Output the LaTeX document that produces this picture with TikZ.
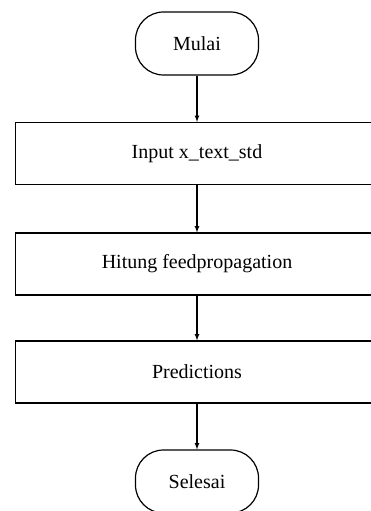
\documentclass[tikz,border=0pt]{standalone}
\usepackage{fontspec}
\setmainfont{Liberation Serif}
\usetikzlibrary{arrows}

\begin{document}
\begin{tikzpicture}[x=1pt,y=-1pt,
  terminal/.style={rectangle,draw,line width=1.2pt,rounded corners=28pt,minimum width=123pt,minimum height=63pt,font=\fontsize{20}{24}\selectfont},
  process/.style={rectangle,draw,line width=1.2pt,minimum width=363pt,minimum height=62pt,font=\fontsize{20}{24}\selectfont},
  flow/.style={->,>=latex,line width=1.2pt}]
\useasboundingbox (0,0) rectangle (371,511);
\clip (0,0) rectangle (371,511);
\node[terminal] at (197,43.5) (mulai) {Mulai};
\node[process] at (197,153.5) (input) {Input x\_text\_std};
\node[process] at (197,264) (hitung) {Hitung feedpropagation};
\node[process] at (197,372) (pred) {Predictions};
\node[terminal] at (197,481.5) (selesai) {Selesai};

\draw[flow] (mulai) -- (input);
\draw[flow] (input) -- (hitung);
\draw[flow] (hitung) -- (pred);
\draw[flow] (pred) -- (selesai);
\end{tikzpicture}
\end{document}
